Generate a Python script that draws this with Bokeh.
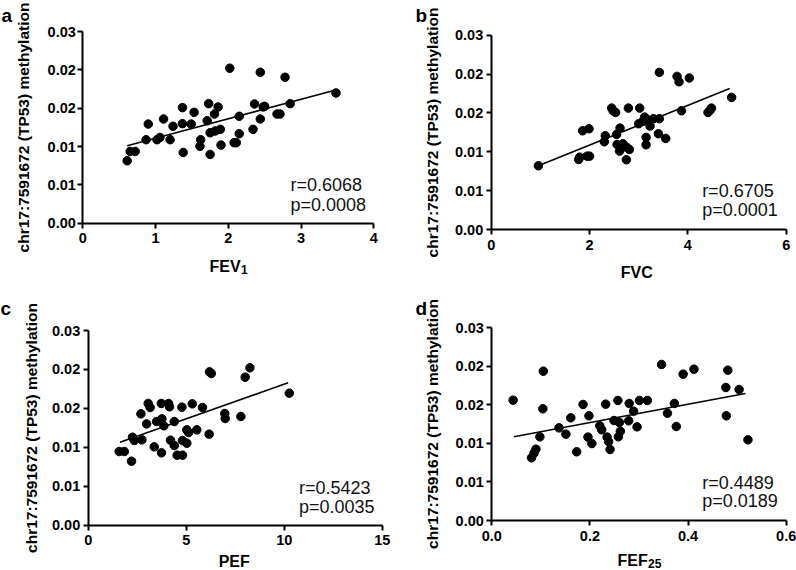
from bokeh.plotting import figure
from bokeh.layouts import row, column
from bokeh.models import Range1d, FixedTicker, Label
from bokeh.embed import file_html
from bokeh.resources import INLINE

# ---------------- data ----------------
y_ticks = [0, 0.005, 0.01, 0.015, 0.02, 0.025]
y_tick_labels = ["0.00", "0.01", "0.01", "0.02", "0.02", "0.03"]
y_label = "chr17:7591672 (TP53) methylation"

fev1_x = [0.61, 0.65, 0.72, 0.87, 0.90, 1.02, 1.06, 1.11, 1.20, 1.24, 1.37, 1.37, 1.38, 1.49,
          1.53, 1.62, 1.61, 1.71, 1.73, 1.75, 1.75, 1.81, 1.82, 1.86, 1.89, 1.90, 2.02, 2.08,
          2.11, 2.15, 2.15, 2.34, 2.36, 2.44, 2.44, 2.48, 2.50, 2.67, 2.71, 2.78, 2.85, 3.48]
fev1_y = [0.00814, 0.00936, 0.00936, 0.01089, 0.01293, 0.01089, 0.01119, 0.01359, 0.01089,
          0.01263, 0.01507, 0.01298, 0.00923, 0.01293, 0.01446, 0.01089, 0.01002, 0.01337,
          0.01559, 0.01180, 0.00897, 0.01424, 0.01202, 0.01516, 0.01224, 0.01019, 0.02021,
          0.01050, 0.01050, 0.01394, 0.01167, 0.01224, 0.01555, 0.01968, 0.01359, 0.01516,
          0.01524, 0.01424, 0.01424, 0.01903, 0.01559, 0.01698]
fev1_fit_x = [0.61, 3.45]
fev1_fit_y = [0.0101, 0.0173]
fev1_ticks = [0, 1, 2, 3, 4]
fev1_tick_labels = ["0", "1", "2", "3", "4"]
fev1_stats = ["r=0.6068", "p=0.0008"]

fvc_x = [0.96, 1.78, 1.80, 1.95, 2.00, 1.86, 1.99, 2.30, 2.32, 2.45, 2.48, 2.53, 2.55, 2.62,
         2.56, 2.61, 2.68, 2.76, 2.81, 2.75, 2.79, 3.02, 3.00, 3.08, 3.12, 3.17, 3.23, 3.15,
         3.15, 3.30, 3.42, 3.40, 3.55, 3.42, 3.78, 3.82, 4.03, 3.87, 4.41, 4.45, 4.48, 4.89]
fvc_y = [0.00820, 0.00901, 0.00931, 0.00944, 0.00944, 0.01270, 0.01296, 0.01129, 0.01206,
         0.01562, 0.01528, 0.01506, 0.01223, 0.01305, 0.01094, 0.01009, 0.01103, 0.01056,
         0.01030, 0.00897, 0.01562, 0.01562, 0.01361, 0.01391, 0.01446, 0.01416, 0.01331,
         0.01185, 0.01090, 0.01425, 0.01425, 0.01232, 0.01172, 0.02022, 0.01970, 0.01901,
         0.01949, 0.01528, 0.01506, 0.01532, 0.01562, 0.01700]
fvc_fit_x = [0.96, 4.85]
fvc_fit_y = [0.0082, 0.01815]
fvc_ticks = [0, 2, 4, 6]
fvc_tick_labels = ["0", "2", "4", "6"]
fvc_stats = ["r=0.6705", "p=0.0001"]

pef_x = [1.58, 1.84, 2.21, 2.26, 2.35, 2.69, 2.74, 2.98, 3.06, 3.16, 3.37, 3.49, 3.73, 3.76,
         3.74, 3.86, 4.10, 4.15, 4.20, 4.39, 4.39, 4.54, 4.78, 4.81, 4.81, 5.03, 5.03, 5.12,
         5.31, 5.54, 5.83, 6.17, 6.19, 6.28, 6.97, 6.99, 7.79, 8.01, 8.25, 10.26]
pef_y = [0.00946, 0.00946, 0.00822, 0.01130, 0.01087, 0.01430, 0.01096, 0.01301, 0.01563,
         0.01511, 0.01006, 0.01331, 0.01563, 0.01366, 0.00929, 0.01276, 0.01563, 0.01520,
         0.01092, 0.01023, 0.01331, 0.00899, 0.01516, 0.01087, 0.00899, 0.01224, 0.01053,
         0.01190, 0.01558, 0.01224, 0.01511, 0.01169, 0.01969, 0.01948, 0.01434, 0.01370,
         0.01396, 0.01901, 0.02021, 0.01695]
pef_fit_x = [1.62, 10.2]
pef_fit_y = [0.01066, 0.01828]
pef_ticks = [0, 5, 10, 15]
pef_tick_labels = ["0", "5", "10", "15"]
pef_stats = ["r=0.5423", "p=0.0035"]

fef25_x = [0.0435, 0.081, 0.086, 0.090, 0.105, 0.104, 0.098, 0.137, 0.151, 0.161, 0.173,
           0.186, 0.198, 0.196, 0.204, 0.220, 0.224, 0.232, 0.235, 0.238, 0.241, 0.249,
           0.257, 0.258, 0.260, 0.262, 0.279, 0.280, 0.289, 0.296, 0.301, 0.317, 0.346,
           0.358, 0.372, 0.376, 0.390, 0.412, 0.477, 0.478, 0.481, 0.504, 0.522]
fef25_y = [0.01559, 0.00812, 0.00872, 0.00924, 0.01934, 0.01447, 0.01084, 0.01200, 0.01118,
           0.01330, 0.00890, 0.01503, 0.01356, 0.01080, 0.00997, 0.01226, 0.01175, 0.01507,
           0.01080, 0.01023, 0.00920, 0.01295, 0.01555, 0.01084, 0.01270, 0.01157, 0.01291,
           0.01516, 0.01416, 0.01213, 0.01555, 0.01555, 0.02021, 0.01390, 0.01516, 0.01218,
           0.01896, 0.01960, 0.01723, 0.01356, 0.01947, 0.01697, 0.01045]
fef25_fit_x = [0.045, 0.517]
fef25_fit_y = [0.01084, 0.01645]
fef25_ticks = [0.0, 0.2, 0.4, 0.6]
fef25_tick_labels = ["0.0", "0.2", "0.4", "0.6"]
fef25_stats = ["r=0.4489", "p=0.0189"]

FONT = "Liberation Sans"
Y_MAX = 0.025


def make_panel(x, y, fit_x, fit_y, xticks, xtick_labels, xlabel, xsub, stats, letter, spec):
    W, H = spec["W"], spec["H"]
    fl, fr, ft, fb, x1 = spec["fl"], spec["fr"], spec["ft"], spec["fb"], spec["x1"]
    sx_ = (fr - fl) / x1          # px per x unit
    sy_ = (fb - ft) / Y_MAX       # px per y unit

    def dx(px):
        return (px - fl) / sx_

    def dy(py):
        return (fb - py) / sy_

    p = figure(width=W, height=H, output_backend="svg", toolbar_location=None, tools="",
               x_range=Range1d(dx(0), dx(W)), y_range=Range1d(dy(H), dy(0)),
               min_border=0, min_border_left=0, min_border_right=0,
               min_border_top=0, min_border_bottom=0)
    p.outline_line_color = None
    p.xgrid.grid_line_color = None
    p.ygrid.grid_line_color = None
    p.background_fill_color = "white"
    p.border_fill_color = "white"

    p.line(fit_x, fit_y, line_color="black", line_width=1.6)
    p.scatter(x, y, size=8.5, fill_color="black", line_color="black")

    for ax in (p.xaxis[0], p.yaxis[0]):
        ax.fixed_location = 0
        ax.axis_line_width = 2
        ax.axis_line_color = "black"
        ax.major_tick_line_width = 2
        ax.major_tick_line_color = "black"
        ax.major_tick_out = 5
        ax.major_tick_in = 0
        ax.minor_tick_line_color = None
        ax.major_label_text_font = FONT
        ax.major_label_text_font_style = "bold"
        ax.major_label_text_font_size = "14.5px"
        ax.major_label_text_color = "black"

    p.yaxis.bounds = (0, Y_MAX)
    p.yaxis.ticker = FixedTicker(ticks=y_ticks)
    p.yaxis.major_label_overrides = dict(zip(y_ticks, y_tick_labels))
    p.yaxis.major_label_standoff = spec["ytick_so"]
    p.yaxis.axis_label = y_label
    p.yaxis.axis_label_text_font = FONT
    p.yaxis.axis_label_text_font_style = "bold"
    p.yaxis.axis_label_text_font_size = "15.5px"
    p.yaxis.axis_label_text_color = "black"
    p.yaxis.axis_label_standoff = spec["ylab_so"]

    p.xaxis.bounds = (0, x1)
    p.xaxis.ticker = FixedTicker(ticks=xticks)
    p.xaxis.major_label_overrides = dict(zip(xticks, xtick_labels))
    p.xaxis.major_label_standoff = 5

    # x-axis title (with optional subscript)
    main_w = spec["main_w"]
    sub_w = spec["sub_w"]
    cx = (fl + fr) / 2.0
    left = cx - (main_w + sub_w) / 2.0
    base = spec["lab_base"]
    p.add_layout(Label(x=dx(left), y=dy(base), text=xlabel, text_font=FONT,
                       text_font_style="bold", text_font_size="16px", text_color="black",
                       text_align="left", text_baseline="alphabetic"))
    if xsub:
        p.add_layout(Label(x=dx(left + main_w + 0.5), y=dy(base + 3), text=xsub, text_font=FONT,
                           text_font_style="bold", text_font_size="12px", text_color="black",
                           text_align="left", text_baseline="alphabetic"))

    # statistics
    sx, sy1, sy2 = spec["stats_pos"]
    for txt, yy in zip(stats, (sy1, sy2)):
        p.add_layout(Label(x=sx, y=yy, text=txt, text_font=FONT, text_font_size="18px",
                           text_color="#111111", text_align="left", text_baseline="alphabetic"))

    # panel letter
    lx, lb = spec["letter_pos"]
    p.add_layout(Label(x=dx(lx), y=dy(lb), text=letter, text_font=FONT, text_font_style="bold",
                       text_font_size="19px", text_color="black", text_align="left",
                       text_baseline="alphabetic"))
    return p


spec_a = dict(W=398, H=285, fl=82.3, fr=373.3, ft=31, fb=222.7, x1=4, main_w=31, sub_w=6.5,
              lab_base=266, stats_pos=(2.854, 0.00492, 0.0024), letter_pos=(1, 15),
              ytick_so=2, ylab_so=12)
spec_b = dict(W=398, H=285, fl=92.7, fr=387.7, ft=34.7, fb=229, x1=6, main_w=36, sub_w=0,
              lab_base=272, stats_pos=(4.29, 0.00494, 0.00245), letter_pos=(17, 15),
              ytick_so=3, ylab_so=11)
spec_c = dict(W=398, H=285, fl=87.7, fr=381.7, ft=45, fb=239.7, x1=15, main_w=33, sub_w=0,
              lab_base=275.5, stats_pos=(10.75, 0.00484, 0.00231), letter_pos=(0, 23),
              ytick_so=3, ylab_so=9)
spec_d = dict(W=398, H=285, fl=93.3, fr=387.7, ft=42, fb=235, x1=0.6, main_w=30, sub_w=13,
              lab_base=274.5, stats_pos=(0.4288, 0.00492, 0.00255), letter_pos=(17, 23),
              ytick_so=3, ylab_so=11)

pa = make_panel(fev1_x, fev1_y, fev1_fit_x, fev1_fit_y, fev1_ticks, fev1_tick_labels,
                "FEV", "1", fev1_stats, "a", spec_a)
pb = make_panel(fvc_x, fvc_y, fvc_fit_x, fvc_fit_y, fvc_ticks, fvc_tick_labels,
                "FVC", "", fvc_stats, "b", spec_b)
pc = make_panel(pef_x, pef_y, pef_fit_x, pef_fit_y, pef_ticks, pef_tick_labels,
                "PEF", "", pef_stats, "c", spec_c)
pd_ = make_panel(fef25_x, fef25_y, fef25_fit_x, fef25_fit_y, fef25_ticks, fef25_tick_labels,
                 "FEF", "25", fef25_stats, "d", spec_d)

layout = column(row(pa, pb), row(pc, pd_))

with open("out.html", "w") as f:
    f.write(file_html(layout, INLINE))
